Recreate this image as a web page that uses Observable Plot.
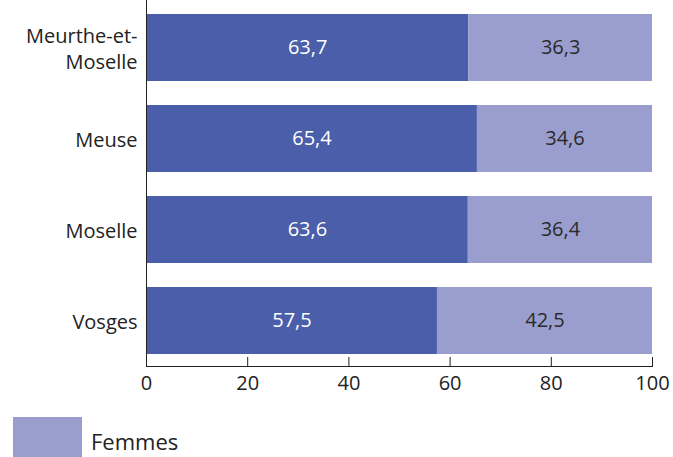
<!DOCTYPE html>
<html>
<head>
<meta charset="utf-8">
<script src="https://cdn.jsdelivr.net/npm/d3@7"></script>
<script src="https://cdn.jsdelivr.net/npm/@observablehq/plot@0.6"></script>
<style>
  body { margin: 0; background: #fff; font-family: "Open Sans", sans-serif; }
  #chart svg { display: block; }
  .legend { display: flex; align-items: center; margin-top: 9px; margin-left: 13px; }
  .legend .sw { width: 69px; height: 48px; background: #9a9ecf; }
  .legend .lb { margin-left: 9px; font-size: 22px; color: #222; }
</style>
</head>
<body>
<div id="chart"></div>
<div class="legend"><div class="sw"></div><div class="lb">Femmes</div></div>
<script>
// Départements and the share of men / women (%)
const departements = ["Meurthe-et-Moselle", "Meuse", "Moselle", "Vosges"];
const departementLabels = ["Meurthe-et-\nMoselle", "Meuse", "Moselle", "Vosges"];
const hommes = [63.7, 65.4, 63.6, 57.5];
const femmes = [36.3, 34.6, 36.4, 42.5];
const xTicks = [0, 20, 40, 60, 80, 100];

const series = ["Hommes", "Femmes"];
const seriesColors = {Hommes: "#4b5ea9", Femmes: "#9a9ecf"};
const labelColors = {Hommes: "#ffffff", Femmes: "#2a2a2a"};

const rows = departements.flatMap((d, i) => [
  {dep: d, sexe: "Hommes", value: hommes[i]},
  {dep: d, sexe: "Femmes", value: femmes[i]}
]);

const fmt = v => v.toFixed(1).replace(".", ",");
const stackOpts = {y: "dep", x: "value", order: series};
const fs = 20;

const chart = Plot.plot({
  width: 673,
  height: 408,
  marginTop: 0,
  marginLeft: 146,
  marginRight: 21,
  marginBottom: 42,
  style: {fontFamily: "'Open Sans', sans-serif", fontSize: fs + "px", color: "#222"},
  x: {domain: [0, 100], label: null},
  y: {domain: departements, range: [1, 366], paddingInner: 0.268, paddingOuter: 0.133, label: null},
  color: {type: "identity"},
  marks: [
    Plot.barX(rows, Plot.stackX({...stackOpts, fill: d => seriesColors[d.sexe]})),
    Plot.textX(rows, Plot.stackX({
      ...stackOpts,
      text: d => fmt(d.value),
      fill: d => labelColors[d.sexe],
      fontSize: fs
    })),
    Plot.frame({anchor: "left", stroke: "#222"}),
    Plot.frame({anchor: "bottom", stroke: "#222"}),
    Plot.axisX(xTicks, {tickSize: 9, dy: -9, tickFormat: () => "", label: null, stroke: "#222"}),
    Plot.axisX(xTicks, {tickSize: 0, tickPadding: 9, label: null, fontSize: fs, fill: "#222"}),
    Plot.axisY({
      tickSize: 0,
      tickPadding: 9,
      label: null,
      fontSize: fs,
      lineHeight: 1.3,
      fill: "#222",
      tickFormat: d => departementLabels[departements.indexOf(d)]
    })
  ]
});
document.getElementById("chart").append(chart);
</script>
</body>
</html>
